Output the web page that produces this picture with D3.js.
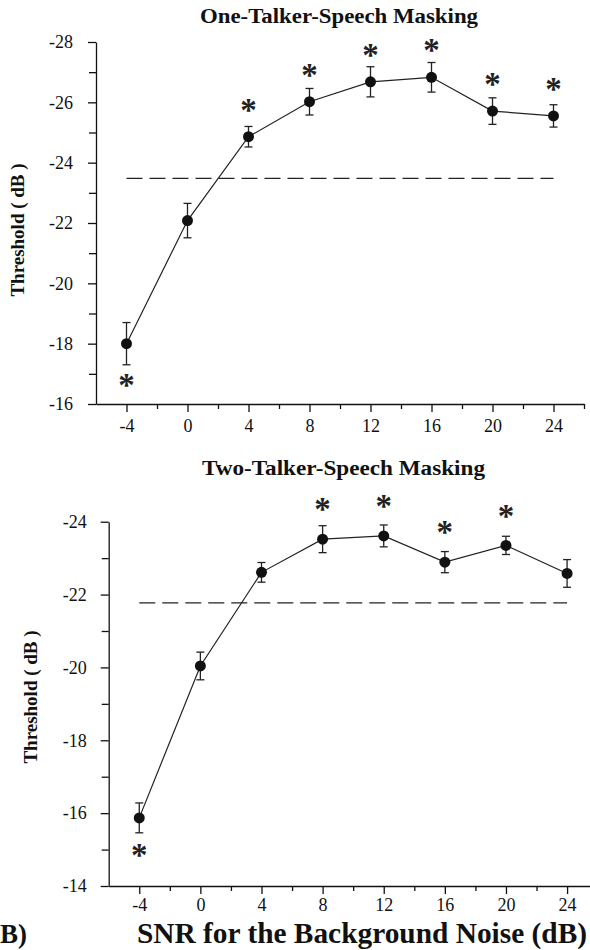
<!DOCTYPE html>
<html lang="en">
<head>
    <meta charset="utf-8">
    <title>Speech Masking Thresholds</title>
    <script src="https://d3js.org/d3.v7.min.js"></script>
    <style>
        body { margin: 0; background: #fff; }
        svg { display: block; }
        .tick text { font-family: "Liberation Serif", "Times New Roman", serif; font-size: 18px; fill: #111; }
        .domain, .tick line { stroke: #111; stroke-width: 1.3; }
    </style>
</head>
<body>
<div id="chart-container"></div>
<script>
    // SNR conditions (dB)
    const snr = [-4, 0, 4, 8, 12, 16, 20, 24];
    const xMajorTicks = [-4, 0, 4, 8, 12, 16, 20, 24];

    // Panel A: one-talker speech masking
    const oneTalkerMean = [-18.0, -22.08, -24.86, -26.02, -26.68, -26.83, -25.71, -25.55];
    const oneTalkerErr = [0.70, 0.57, 0.34, 0.44, 0.50, 0.49, 0.44, 0.37];
    const oneTalkerSig = ["below", null, "above", "above", "above", "above", "above", "above"];
    const oneTalkerBaseline = -23.48;
    const oneTalkerYTicks = [-28, -26, -24, -22, -20, -18, -16];
    const oneTalkerYMinor = [-27, -25, -23, -21, -19, -17];
    const oneTalkerXMinor = [-2, 2, 6, 10, 14, 18, 22, 26];

    // Panel B: two-talker speech masking
    const twoTalkerMean = [-15.87, -20.04, -22.61, -23.52, -23.61, -22.89, -23.35, -22.58];
    const twoTalkerErr = [0.41, 0.38, 0.27, 0.37, 0.30, 0.29, 0.25, 0.38];
    const twoTalkerSig = ["below", null, null, "above", "above", "above", "above", null];
    const twoTalkerBaseline = -21.77;
    const twoTalkerYTicks = [-24, -22, -20, -18, -16, -14];
    const twoTalkerYMinor = [-23, -21, -19, -17, -15];
    const twoTalkerXMinor = [-2, 2, 6, 10, 14, 18, 22];

    const width = 590;
    const height = 950;
    const serif = '"Liberation Serif", "Times New Roman", serif';

    const svg = d3.select("#chart-container")
        .append("svg")
        .attr("width", width)
        .attr("height", height);

    function drawPanel(opt) {
        const g = svg.append("g");

        const x = d3.scaleLinear().domain(opt.xDomain).range(opt.xRange);
        const y = d3.scaleLinear().domain(opt.yDomain).range(opt.yRange);
        const x0 = opt.xRange[0];
        const yBottom = opt.yRange[0];

        // minor ticks first, no labels
        g.append("g")
            .attr("transform", `translate(0,${yBottom})`)
            .call(d3.axisBottom(x).tickValues(opt.xMinor).tickSize(5).tickFormat(""))
            .call(a => a.select(".domain").remove());
        g.append("g")
            .attr("transform", `translate(${x0},0)`)
            .call(d3.axisLeft(y).tickValues(opt.yMinor).tickSize(7).tickFormat(""))
            .call(a => a.select(".domain").remove());

        // main axes
        g.append("g")
            .attr("transform", `translate(0,${yBottom})`)
            .call(d3.axisBottom(x).tickValues(xMajorTicks).tickSize(8).tickSizeOuter(0)
                .tickPadding(opt.xPad))
            .selectAll("text").text(d => d < 0 ? "-" + Math.abs(d) : d);
        g.append("g")
            .attr("transform", `translate(${x0},0)`)
            .call(d3.axisLeft(y).tickValues(opt.yTicks).tickSize(8).tickSizeOuter(0)
                .tickPadding(opt.yPad))
            .selectAll("text").text(d => "-" + Math.abs(d));

        // reference (dashed) line
        g.append("line")
            .attr("x1", x(snr[0]))
            .attr("x2", x(snr[snr.length - 1]))
            .attr("y1", y(opt.baseline))
            .attr("y2", y(opt.baseline))
            .attr("stroke", "#222")
            .attr("stroke-width", 1.3)
            .attr("stroke-dasharray", "16,7");

        const data = snr.map((s, i) => ({ snr: s, mean: opt.mean[i], err: opt.err[i], sig: opt.sig[i] }));

        // connecting line
        g.append("path")
            .datum(data)
            .attr("fill", "none")
            .attr("stroke", "#222")
            .attr("stroke-width", 1.2)
            .attr("d", d3.line().x(d => x(d.snr)).y(d => y(d.mean)));

        // error bars
        const bars = g.selectAll(".err").data(data).enter().append("g").attr("class", "err")
            .attr("stroke", "#222").attr("stroke-width", 1.3);
        bars.append("line")
            .attr("x1", d => x(d.snr)).attr("x2", d => x(d.snr))
            .attr("y1", d => y(d.mean - d.err)).attr("y2", d => y(d.mean + d.err));
        bars.append("line")
            .attr("x1", d => x(d.snr) - 4).attr("x2", d => x(d.snr) + 4)
            .attr("y1", d => y(d.mean - d.err)).attr("y2", d => y(d.mean - d.err));
        bars.append("line")
            .attr("x1", d => x(d.snr) - 4).attr("x2", d => x(d.snr) + 4)
            .attr("y1", d => y(d.mean + d.err)).attr("y2", d => y(d.mean + d.err));

        // points
        g.selectAll(".pt").data(data).enter().append("circle")
            .attr("class", "pt")
            .attr("cx", d => x(d.snr))
            .attr("cy", d => y(d.mean))
            .attr("r", 5.5)
            .attr("fill", "#111");

        // significance stars
        g.selectAll(".star").data(data.filter(d => d.sig)).enter().append("text")
            .attr("class", "star")
            .attr("x", d => x(d.snr))
            .attr("y", d => y(d.mean) + (d.sig === "above" ? -opt.starUp : opt.starDown))
            .attr("dy", "0.55em")
            .attr("text-anchor", "middle")
            .style("font-family", serif)
            .style("font-weight", "bold")
            .style("font-size", "33px")
            .attr("fill", "#222")
            .text("*");

        // title
        g.append("text")
            .attr("x", opt.titleX)
            .attr("y", opt.titleY)
            .attr("textLength", opt.titleLen)
            .attr("lengthAdjust", "spacingAndGlyphs")
            .style("font-family", serif)
            .style("font-weight", "bold")
            .style("font-size", "20px")
            .attr("fill", "#111")
            .text(opt.title);

        // y axis label
        g.append("text")
            .attr("transform", `translate(${opt.ylabX},${opt.ylabY}) rotate(-90)`)
            .attr("text-anchor", "middle")
            .style("font-family", serif)
            .style("font-weight", "bold")
            .style("font-size", "19px")
            .attr("fill", "#111")
            .text("Threshold ( dB )");
    }

    drawPanel({
        xDomain: [-6, 26], xRange: [96, 584],
        yDomain: [-16, -28], yRange: [404, 42],
        xMinor: oneTalkerXMinor, yMinor: oneTalkerYMinor, yTicks: oneTalkerYTicks,
        xPad: 7, yPad: 15,
        mean: oneTalkerMean, err: oneTalkerErr, sig: oneTalkerSig, baseline: oneTalkerBaseline,
        starUp: 34, starDown: 34,
        title: "One-Talker-Speech Masking", titleX: 200, titleY: 23, titleLen: 278,
        ylabX: 24, ylabY: 230
    });

    drawPanel({
        xDomain: [-6, 25.5], xRange: [108.7, 590],
        yDomain: [-14, -24], yRange: [886, 521.7],
        xMinor: twoTalkerXMinor, yMinor: twoTalkerYMinor, yTicks: twoTalkerYTicks,
        xPad: 4, yPad: 14,
        mean: twoTalkerMean, err: twoTalkerErr, sig: twoTalkerSig, baseline: twoTalkerBaseline,
        starUp: 37, starDown: 30,
        title: "Two-Talker-Speech Masking", titleX: 202, titleY: 475, titleLen: 283,
        ylabX: 37, ylabY: 697
    });

    // shared x axis label and panel letter
    svg.append("text")
        .attr("x", 137)
        .attr("y", 943)
        .attr("textLength", 450)
        .attr("lengthAdjust", "spacingAndGlyphs")
        .style("font-family", serif)
        .style("font-weight", "bold")
        .style("font-size", "29px")
        .attr("fill", "#111")
        .text("SNR for the Background Noise (dB)");

    svg.append("text")
        .attr("x", 0)
        .attr("y", 943)
        .style("font-family", serif)
        .style("font-weight", "bold")
        .style("font-size", "27px")
        .attr("fill", "#111")
        .text("B)");
</script>
</body>
</html>
